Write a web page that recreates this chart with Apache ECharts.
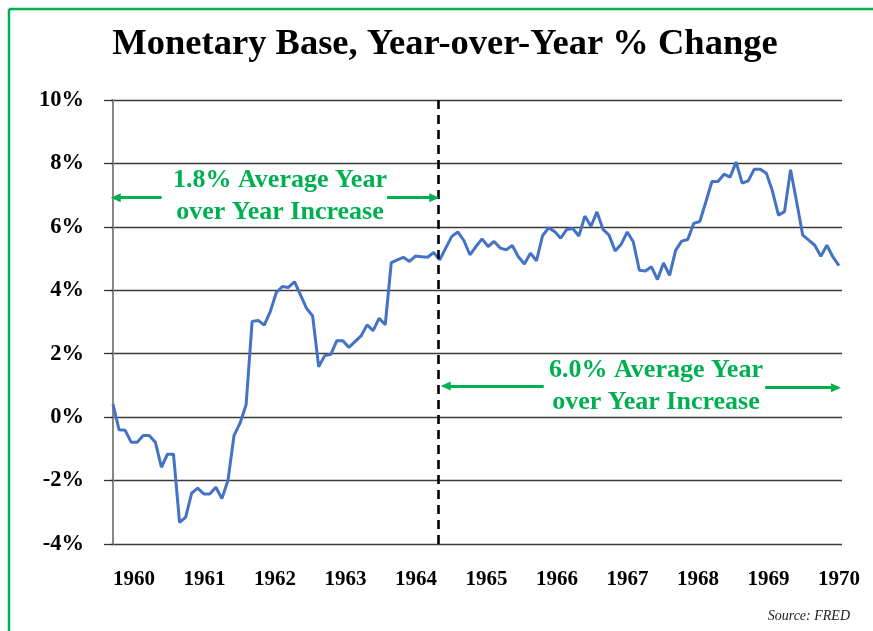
<!DOCTYPE html>
<html>
<head>
<meta charset="utf-8">
<script src="https://cdn.jsdelivr.net/npm/echarts@6/dist/echarts.min.js"></script>
<style>html,body{margin:0;padding:0;background:#fff}#c{width:873px;height:631px}</style>
</head>
<body>
<div id="c"></div>
<script>
// Monthly YoY % change, Jan 1960 .. Jan 1970 (index 0..120)
const monthIndex = Array.from({length: 121}, (_, i) => i);
const yoyChange = [
  0.41, -0.40, -0.41, -0.79, -0.79, -0.58, -0.58, -0.79, -1.58, -1.17, -1.17, -3.32,
  -3.16, -2.40, -2.24, -2.42, -2.42, -2.21, -2.57, -2.00, -0.58, -0.19, 0.39, 3.02,
  3.05, 2.90, 3.33, 3.93, 4.12, 4.09, 4.27, 3.85, 3.43, 3.19, 1.59, 1.94,
  1.98, 2.41, 2.41, 2.20, 2.38, 2.56, 2.91, 2.73, 3.12, 2.91, 4.87, 4.96,
  5.04, 4.91, 5.08, 5.06, 5.04, 5.19, 4.96, 5.33, 5.70, 5.84, 5.57, 5.12,
  5.38, 5.62, 5.38, 5.54, 5.33, 5.28, 5.41, 5.06, 4.83, 5.17, 4.93, 5.72,
  5.97, 5.85, 5.64, 5.92, 5.95, 5.71, 6.34, 6.02, 6.47, 5.92, 5.74, 5.24,
  5.45, 5.84, 5.53, 4.63, 4.61, 4.74, 4.34, 4.86, 4.47, 5.26, 5.55, 5.60,
  6.11, 6.17, 6.79, 7.43, 7.43, 7.66, 7.57, 8.04, 7.38, 7.45, 7.82, 7.82,
  7.69, 7.13, 6.37, 6.48, 7.80, 6.79, 5.74, 5.58, 5.42, 5.07, 5.42, 5.05,
  4.78
];
const yearLabels = [1960, 1961, 1962, 1963, 1964, 1965, 1966, 1967, 1968, 1969, 1970];
const yTicks = [-4, -2, 0, 2, 4, 6, 8, 10];

// Annotations (data coordinates: month index, percent)
const splitMonth = 53.75;
const avgBefore = '1.8% Average Year\nover Year Increase';
const avgAfter = '6.0% Average Year\nover Year Increase';
const beforeTextAt = [27.6, 6.97];
const afterTextAt = [89.75, 0.98];
const beforeArrowL = [[8.05, 6.92], [0.45, 6.92]];
const beforeArrowR = [[45.3, 6.92], [53.1, 6.92]];
const afterArrowL = [[71.2, 0.98], [55.0, 0.98]];
const afterArrowR = [[107.8, 0.93], [119.5, 0.93]];

const GREEN = '#00B050';
const FONT = '"Liberation Serif", "DejaVu Serif", serif';

const chart = echarts.init(document.getElementById('c'), null, {renderer: 'canvas'});

function arrow(pair) {
  return [
    {coord: pair[0], symbol: 'none', lineStyle: {color: GREEN, width: 3, type: 'solid'}},
    {coord: pair[1], symbol: 'triangle', symbolSize: [9, 10]}
  ];
}

const option = {
  animation: false,
  backgroundColor: '#fff',
  title: [
    {
      text: 'Monetary Base, Year-over-Year % Change',
      left: 440, top: 21, textAlign: 'center',
      textStyle: {fontFamily: FONT, fontSize: 36.5, fontWeight: 'bold', color: '#000'}
    },
    {
      text: 'Source: FRED',
      right: 18, top: 604,
      textStyle: {fontFamily: FONT, fontSize: 14, fontStyle: 'italic', fontWeight: 'normal', color: '#222'}
    }
  ],
  graphic: [
    {type: 'line', shape: {x1: 9, y1: 9, x2: 873, y2: 9}, style: {stroke: GREEN, lineWidth: 2.5}, silent: true},
    {type: 'line', shape: {x1: 9, y1: 9, x2: 9, y2: 631}, style: {stroke: GREEN, lineWidth: 2.5}, silent: true}
  ],
  grid: {left: 111, right: 31, top: 100, bottom: 87, containLabel: false},
  xAxis: [
    {
      type: 'value', min: -0.33, max: 120.5,
      axisLine: {show: false}, axisTick: {show: false}, axisLabel: {show: false}, splitLine: {show: false}
    },
    {
      type: 'value', min: 1959.674, max: 1970.043, position: 'bottom',
      axisLine: {show: false}, axisTick: {show: false}, splitLine: {show: false},
      axisLabel: {
        customValues: yearLabels,
        formatter: v => String(Math.round(v)),
        margin: 25,
        fontFamily: FONT, fontSize: 21, fontWeight: 'bold', color: '#000'
      }
    }
  ],
  yAxis: {
    type: 'value', min: yTicks[0], max: yTicks[yTicks.length - 1], interval: 2,
    axisLine: {show: true, lineStyle: {color: '#878787', width: 2}},
    axisTick: {show: true, inside: false, length: 9, lineStyle: {color: '#333', width: 1.3}},
    axisLabel: {
      formatter: '{value}%', margin: 27,
      fontFamily: FONT, fontSize: 22.5, fontWeight: 'bold', color: '#000'
    },
    splitLine: {show: true, lineStyle: {color: '#3a3a3a', width: 1.3}}
  },
  series: [
    {
      type: 'line',
      xAxisIndex: 0,
      data: monthIndex.map((m, i) => [m, yoyChange[i]]),
      symbol: 'none',
      lineStyle: {color: '#4472C4', width: 3},
      itemStyle: {color: '#4472C4'},
      z: 3,
      markLine: {
        silent: true,
        animation: false,
        label: {show: false},
        emphasis: {disabled: true},
        data: [
          [
            {coord: [splitMonth, yTicks[0]], symbol: 'none', lineStyle: {color: '#000', width: 2.6, type: [9, 6]}},
            {coord: [splitMonth, yTicks[yTicks.length - 1]], symbol: 'none'}
          ],
          arrow(beforeArrowL),
          arrow(beforeArrowR),
          arrow(afterArrowL),
          arrow(afterArrowR)
        ]
      },
      markPoint: {
        silent: true,
        animation: false,
        symbol: 'rect',
        symbolSize: 1,
        itemStyle: {color: 'rgba(0,0,0,0)'},
        label: {
          show: true, position: 'inside',
          fontFamily: FONT, fontSize: 26, fontWeight: 'bold', color: GREEN, lineHeight: 32, align: 'center'
        },
        data: [
          {coord: beforeTextAt, label: {formatter: avgBefore}},
          {coord: afterTextAt, label: {formatter: avgAfter}}
        ]
      }
    }
  ]
};
chart.setOption(option);
</script>
</body>
</html>
